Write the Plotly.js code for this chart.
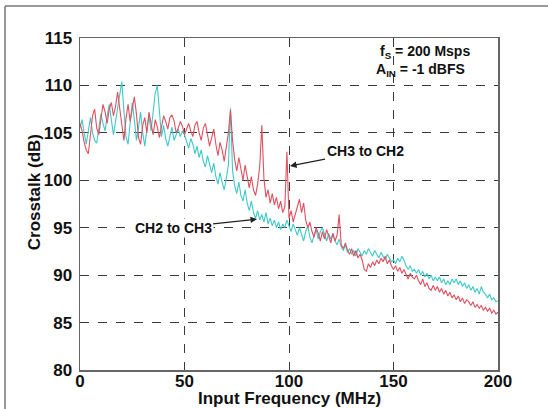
<!DOCTYPE html>
<html>
<head>
<meta charset="utf-8">
<script src="https://cdn.plot.ly/plotly-3.0.1.min.js"></script>
<style>html,body{margin:0;padding:0;background:#fff;}#chart{width:548px;height:409px;}</style>
</head>
<body>
<div id="chart"></div>
<script>
// Frequency axis (MHz), 1 MHz steps 0..200
var freqStart = 0, freqStep = 1;
// CH3 to CH2 crosstalk (dB) - red trace
var ch3ToCh2 = [
106.0,105.2,104.0,103.2,102.8,104.5,106.8,107.5,105.5,104.8,
106.5,108.0,107.2,106.0,107.5,108.2,106.8,107.8,109.3,107.5,
105.5,104.2,106.5,108.0,106.2,107.4,108.8,107.0,104.5,103.8,
105.8,106.6,105.0,107.2,106.0,104.8,106.4,105.6,104.5,105.8,
106.8,106.2,105.4,106.6,106.9,106.3,105.0,105.5,106.2,105.7,
104.8,105.4,106.0,105.2,104.6,105.8,106.2,105.0,104.2,105.5,
106.0,104.8,103.6,104.5,105.4,103.8,102.6,104.0,103.2,102.0,
103.6,105.0,107.4,104.2,102.2,101.0,102.4,101.2,100.0,101.6,
100.5,99.2,100.4,99.0,98.4,99.6,101.5,105.8,100.2,98.2,
99.0,97.6,98.6,97.4,98.2,97.0,97.8,96.6,97.2,103.0,
96.0,96.8,95.6,96.4,97.4,98.0,96.6,97.6,95.8,95.0,
95.6,94.6,94.0,95.0,94.4,93.6,94.6,93.8,94.8,94.2,
93.4,94.4,93.6,94.2,96.4,93.2,92.8,93.4,92.6,92.2,
92.8,92.0,92.6,91.8,92.2,91.6,90.6,90.4,91.2,90.8,
91.4,91.0,91.6,91.2,91.8,91.4,92.0,91.2,91.6,91.0,
90.6,91.0,90.4,90.8,90.2,90.6,90.0,89.6,90.2,89.8,
89.6,90.0,89.4,89.0,89.6,88.8,89.2,88.6,88.4,88.9,
88.4,88.8,88.2,88.6,88.0,88.4,87.8,88.2,87.6,87.9,
87.4,87.8,87.2,87.6,87.0,87.4,87.2,86.8,87.2,86.6,
86.9,86.5,86.8,86.3,86.6,86.2,86.5,86.0,86.3,85.9,
86.1];
// CH2 to CH3 crosstalk (dB) - cyan trace
var ch2ToCh3 = [
105.5,106.4,105.0,103.8,105.2,106.6,105.0,104.2,103.9,105.6,
107.0,106.0,105.2,106.8,108.0,106.4,104.8,106.2,107.6,109.0,
110.4,107.4,104.6,103.8,106.0,108.2,106.4,104.2,105.6,107.2,
105.0,103.6,105.4,106.8,105.2,107.4,109.2,110.0,106.8,104.6,
105.8,104.4,103.6,104.8,105.6,104.2,104.9,105.4,104.6,105.2,
104.8,104.0,103.4,104.4,103.8,102.8,103.6,102.4,103.2,102.0,
101.4,102.6,101.6,100.8,101.8,100.4,99.6,100.8,99.8,99.0,
100.2,101.6,107.6,101.0,99.4,98.6,99.8,98.4,97.8,99.0,
97.6,96.8,97.8,96.6,96.0,96.8,95.8,96.4,95.6,96.6,
95.4,96.0,95.2,95.8,95.0,95.6,94.8,95.4,95.0,95.8,
95.2,94.6,95.4,94.8,94.2,95.0,94.4,93.6,94.6,95.2,
94.0,93.4,94.2,94.8,93.8,94.6,95.0,94.2,93.6,94.4,
93.8,94.4,93.6,93.2,93.8,93.0,92.6,93.2,92.4,92.8,
92.2,92.6,92.0,92.8,92.4,92.0,92.6,92.2,92.8,92.4,
92.0,92.6,92.2,91.8,92.4,92.0,91.6,92.2,91.8,91.4,
91.6,91.2,91.8,91.4,92.0,91.6,91.0,90.6,91.0,90.4,
90.6,90.2,90.6,90.0,90.4,89.8,90.2,89.6,90.0,89.4,
89.8,89.4,89.8,89.2,89.6,89.0,89.4,89.0,89.6,89.2,
89.6,89.0,89.4,88.8,89.2,88.6,89.0,88.4,88.8,88.2,
88.6,88.0,88.8,88.2,88.0,87.6,88.0,87.4,87.6,87.2,
87.3];
var xTicks = [0, 50, 100, 150, 200];
var yTicks = [80, 85, 90, 95, 100, 105, 110, 115];

var freq = ch3ToCh2.map(function(_, i){ return freqStart + i*freqStep; });

var FONT = 'Arial, "Liberation Sans", sans-serif';

var traces = [
  {x: freq, y: ch2ToCh3, type: 'scatter', mode: 'lines', name: 'CH2 to CH3',
   line: {color: '#3fc9c9', width: 1.1}},
  {x: freq, y: ch3ToCh2, type: 'scatter', mode: 'lines', name: 'CH3 to CH2',
   line: {color: '#e0505f', width: 1.1}}
];

var axisCommon = {
  showgrid: true, gridcolor: '#3a3a3a', griddash: 'dash', gridwidth: 1,
  showline: true, linecolor: '#666', linewidth: 1.5, mirror: true,
  zeroline: false, ticks: '',
  tickfont: {family: FONT, size: 17, color: '#111', weight: 'bold'}
};

var layout = {
  width: 548, height: 409,
  margin: {l: 80, r: 50, t: 38, b: 39},
  paper_bgcolor: '#fff', plot_bgcolor: '#fff',
  showlegend: false,
  xaxis: Object.assign({}, axisCommon, {range: [0, 200], tickvals: xTicks, ticklabelstandoff: -5}),
  yaxis: Object.assign({}, axisCommon, {range: [80, 115], tickvals: yTicks, ticklabelstandoff: 3}),
  annotations: [
    {xref: 'paper', yref: 'paper', x: 0.5, y: -0.085, xanchor: 'center', yanchor: 'middle',
     text: 'Input Frequency (MHz)', showarrow: false,
     font: {family: FONT, size: 17, color: '#111', weight: 'bold'}},
    {xref: 'paper', yref: 'paper', x: -0.108, y: 0.535, xanchor: 'center', yanchor: 'middle',
     text: 'Crosstalk (dB)', textangle: -90, showarrow: false,
     font: {family: FONT, size: 17, color: '#111', weight: 'bold'}},
    {xref: 'paper', yref: 'paper', x: 0.937, y: 0.958, xanchor: 'right', yanchor: 'middle',
     text: 'f<sub>S</sub> = 200 Msps', showarrow: false,
     font: {family: FONT, size: 14, color: '#111', weight: 'bold'}},
    {xref: 'paper', yref: 'paper', x: 0.925, y: 0.903, xanchor: 'right', yanchor: 'middle',
     text: 'A<sub>IN</sub> = -1 dBFS', showarrow: false,
     font: {family: FONT, size: 14, color: '#111', weight: 'bold'}},
    {x: 100.5, y: 101.5, xref: 'x', yref: 'y', ax: 75, ay: -15,
     text: 'CH3 to CH2', showarrow: true, arrowhead: 2, arrowsize: 1, arrowwidth: 1.3,
     arrowcolor: '#222', bgcolor: 'rgba(255,255,255,0)',
     font: {family: FONT, size: 14, color: '#111', weight: 'bold'}},
    {x: 84.7, y: 95.9, xref: 'x', yref: 'y', ax: -84, ay: 9,
     text: 'CH2 to CH3', showarrow: true, arrowhead: 2, arrowsize: 1, arrowwidth: 1.3,
     arrowcolor: '#222', bgcolor: '#fff',
     font: {family: FONT, size: 14, color: '#111', weight: 'bold'}}
  ],
  shapes: [
    {type: 'line', xref: 'paper', yref: 'paper', x0: -0.1794, x1: 1.12, y0: 1.0964, y1: 1.0964,
     line: {color: '#777', width: 1.5}},
    {type: 'line', xref: 'paper', yref: 'paper', x0: -0.1794, x1: -0.1794, y0: 1.0964, y1: -0.12,
     line: {color: '#777', width: 1.5}}
  ]
};

Plotly.newPlot('chart', traces, layout, {staticPlot: true, displayModeBar: false});
</script>
</body>
</html>
